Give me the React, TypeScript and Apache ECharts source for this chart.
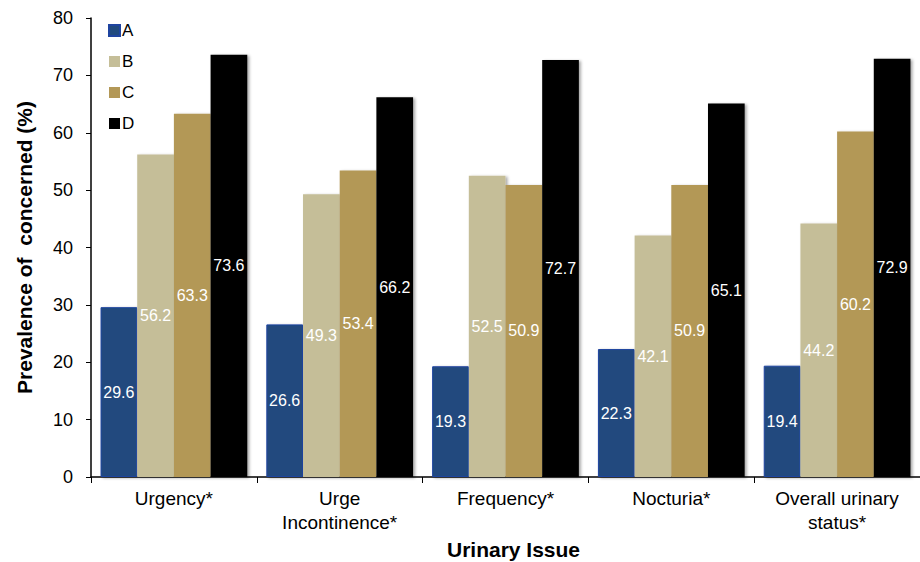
import React, { useEffect, useRef } from "react";
import * as echarts from "echarts";

const categories = [
  "Urgency*",
  "Urge\nIncontinence*",
  "Frequency*",
  "Nocturia*",
  "Overall urinary\nstatus*",
];
const seriesNames = ["A", "B", "C", "D"];
const valuesA = [29.6, 26.6, 19.3, 22.3, 19.4];
const valuesB = [56.2, 49.3, 52.5, 42.1, 44.2];
const valuesC = [63.3, 53.4, 50.9, 50.9, 60.2];
const valuesD = [73.6, 66.2, 72.7, 65.1, 72.9];
const colors = ["#214a7e", "#c5be98", "#b39857", "#000000"];
const borders = ["#1f44a0", "#c5be98", "#b39857", "#000000"];

const FONT = "'Liberation Sans', Arial, sans-serif";

export default function App() {
  const ref = useRef<HTMLDivElement>(null);

  useEffect(() => {
    document.body.style.margin = "0";
    if (!ref.current) return;
    const chart = echarts.init(ref.current, null, { renderer: "svg" });
    const all = [valuesA, valuesB, valuesC, valuesD];
    chart.setOption({
      animation: false,
      textStyle: { fontFamily: FONT },
      grid: {
        left: 91,
        right: 0,
        top: 18,
        bottom: 85,
        containLabel: false,
        outerBoundsMode: "none",
      },
      legend: {
        orient: "vertical",
        left: 108,
        top: 22,
        padding: 0,
        itemWidth: 11,
        itemHeight: 11,
        itemGap: 14,
        icon: "rect",
        textStyle: {
          fontSize: 17,
          lineHeight: 17,
          color: "#000",
          fontFamily: FONT,
          padding: [0, 0, 0, -3],
        },
        data: seriesNames,
      },
      xAxis: {
        type: "category",
        data: categories,
        name: "Urinary Issue",
        nameLocation: "middle",
        nameGap: 60,
        nameTextStyle: {
          fontSize: 21,
          fontWeight: "bold",
          color: "#000",
          fontFamily: FONT,
          padding: [0, 0, 0, 16],
        },
        axisLine: { lineStyle: { color: "#000", width: 1.5 } },
        axisTick: { show: true, alignWithLabel: false, length: 6, lineStyle: { color: "#000" } },
        axisLabel: {
          fontSize: 19,
          color: "#000",
          lineHeight: 24,
          margin: 9,
          interval: 0,
          fontFamily: FONT,
        },
      },
      yAxis: {
        type: "value",
        min: 0,
        max: 80,
        interval: 10,
        name: "Prevalence of  concerned (%)",
        nameLocation: "middle",
        nameGap: 56,
        nameTextStyle: { fontSize: 21, fontWeight: "bold", color: "#000", fontFamily: FONT },
        axisLine: { show: true, lineStyle: { color: "#000", width: 1.5 } },
        axisTick: { show: true, length: 5, lineStyle: { color: "#000" } },
        axisLabel: { fontSize: 18, color: "#000", margin: 18, fontFamily: FONT },
        splitLine: { show: false },
      },
      series: seriesNames.map((name, i) => ({
        name,
        type: "bar",
        data: all[i],
        barGap: "0%",
        barCategoryGap: "11.5%",
        itemStyle: {
          color: colors[i],
          borderColor: borders[i],
          borderWidth: i === 0 ? 1 : 0,
          shadowColor: "rgba(0,0,0,0.35)",
          shadowBlur: 3,
          shadowOffsetX: 2,
          shadowOffsetY: 1,
        },
        label: {
          show: true,
          position: "inside",
          color: "#fff",
          fontSize: 16,
          fontFamily: FONT,
          formatter: (p: any) => Number(p.value).toFixed(1),
        },
      })),
    });
    return () => chart.dispose();
  }, []);

  return <div ref={ref} style={{ width: 920, height: 562 }} />;
}
